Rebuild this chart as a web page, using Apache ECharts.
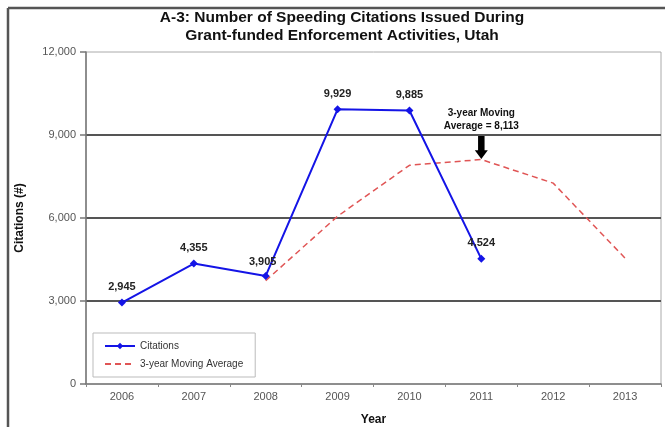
<!DOCTYPE html>
<html>
<head>
<meta charset="utf-8">
<script src="https://cdn.jsdelivr.net/npm/echarts@6/dist/echarts.min.js"></script>
<style>
    html, body { margin: 0; padding: 0; background: #fff; }
    #chart { width: 665px; height: 427px; }
</style>
</head>
<body>
<div id="chart"></div>
<script>
const years = ["2006", "2007", "2008", "2009", "2010", "2011", "2012", "2013"]
const citations = [2945, 4355, 3905, 9929, 9885, 4524, null, null]
const movingAverage = [null, null, 3735, 6063, 7906, 8113, 7260, 4550]
const yTicks = [0, 3000, 6000, 9000, 12000]
const noteYear = "2011"
const noteValue = 8113

const font = "Liberation Sans, Arial, sans-serif"
const fmt = v => v.toLocaleString("en-US")

// label nudges for crowded points
const labelOffsets = { "2008": [-3, 2] }

const chart = echarts.init(document.getElementById("chart"), null, { renderer: "canvas" })

const option = {
    animation: false,
    textStyle: { fontFamily: font },
    title: {
        text: "A-3: Number of Speeding Citations Issued During\nGrant-funded Enforcement Activities, Utah",
        left: 337,
        textAlign: "center",
        top: 4,
        textStyle: { fontSize: 15.5, fontWeight: "bold", color: "#111", lineHeight: 18, fontFamily: font },
    },
    graphic: [
        { type: "line", shape: { x1: 8, y1: 8, x2: 8, y2: 427 }, style: { stroke: "#555", lineWidth: 2.5 } },
        { type: "line", shape: { x1: 8, y1: 8, x2: 665, y2: 8 }, style: { stroke: "#555", lineWidth: 2.5 } },
    ],
    legend: {
        left: 93,
        top: 333,
        orient: "vertical",
        borderColor: "#bbb",
        borderWidth: 1,
        padding: [8, 12, 8, 11],
        itemGap: 8,
        itemWidth: 30,
        itemHeight: 8,
        textStyle: { fontSize: 10, color: "#333", fontFamily: font },
        data: [
            "Citations",
            { name: "3-year Moving Average", itemStyle: { opacity: 0 } },
        ],
    },
    grid: {
        left: 86,
        right: 4,
        top: 52,
        bottom: 43,
        show: true,
        borderColor: "#aaa",
        borderWidth: 1,
        outerBoundsMode: "none",
        containLabel: false,
    },
    xAxis: {
        type: "category",
        data: years,
        boundaryGap: true,
        name: "Year",
        nameLocation: "middle",
        nameGap: 30,
        nameTextStyle: { fontSize: 12, fontWeight: "bold", color: "#111", fontFamily: font },
        axisLine: { lineStyle: { color: "#777", width: 1.5 } },
        axisTick: { show: true, length: 3, lineStyle: { color: "#888" } },
        axisLabel: { color: "#555", fontSize: 11, margin: 7, fontFamily: font },
    },
    yAxis: {
        type: "value",
        min: yTicks[0],
        max: yTicks[yTicks.length - 1],
        interval: yTicks[1] - yTicks[0],
        name: "Citations (#)",
        nameLocation: "middle",
        nameGap: 60,
        nameTextStyle: { fontSize: 12, fontWeight: "bold", color: "#111", fontFamily: font },
        axisLine: { show: true, lineStyle: { color: "#777", width: 1.5 } },
        axisTick: { show: true, length: 6, lineStyle: { color: "#777", width: 1.5 } },
        axisLabel: { color: "#555", fontSize: 11, margin: 10, formatter: v => fmt(v), fontFamily: font },
        splitLine: {
            show: true,
            showMinLine: false,
            showMaxLine: false,
            lineStyle: { color: "#555", width: 2 },
        },
    },
    series: [
        {
            name: "Citations",
            type: "line",
            data: citations.map((v, i) => {
                const off = labelOffsets[years[i]]
                return off ? { value: v, label: { offset: off } } : v
            }),
            color: "#1414e6",
            lineStyle: { width: 2, color: "#1414e6" },
            symbol: "diamond",
            symbolSize: 8,
            itemStyle: { color: "#1414e6" },
            connectNulls: false,
            z: 3,
            label: {
                show: true,
                position: "top",
                distance: 6,
                formatter: p => (p.value == null ? "" : fmt(p.value)),
                fontSize: 11,
                fontWeight: "bold",
                color: "#222",
                fontFamily: font,
            },
        },
        {
            name: "3-year Moving Average",
            type: "line",
            data: movingAverage,
            color: "#e05555",
            symbol: "none",
            lineStyle: { width: 1.5, color: "#e05555", type: [6, 4] },
            z: 2,
            markPoint: {
                symbol: "path://M2.5,0 L7.5,0 L7.5,11 L10,11 L5,18 L0,11 L2.5,11 Z",
                symbolSize: [13, 23],
                symbolOffset: [0, "-52%"],
                itemStyle: { color: "#000", opacity: 1 },
                data: [{ coord: [noteYear, noteValue], value: noteValue }],
                label: {
                    show: true,
                    position: "top",
                    distance: 3,
                    formatter: p => "3-year Moving\nAverage = " + fmt(p.value),
                    fontSize: 10,
                    fontWeight: "bold",
                    color: "#111",
                    lineHeight: 13,
                    fontFamily: "Liberation Sans Narrow, Liberation Sans, Arial, sans-serif",
                },
            },
        },
    ],
}

chart.setOption(option)
</script>
</body>
</html>
